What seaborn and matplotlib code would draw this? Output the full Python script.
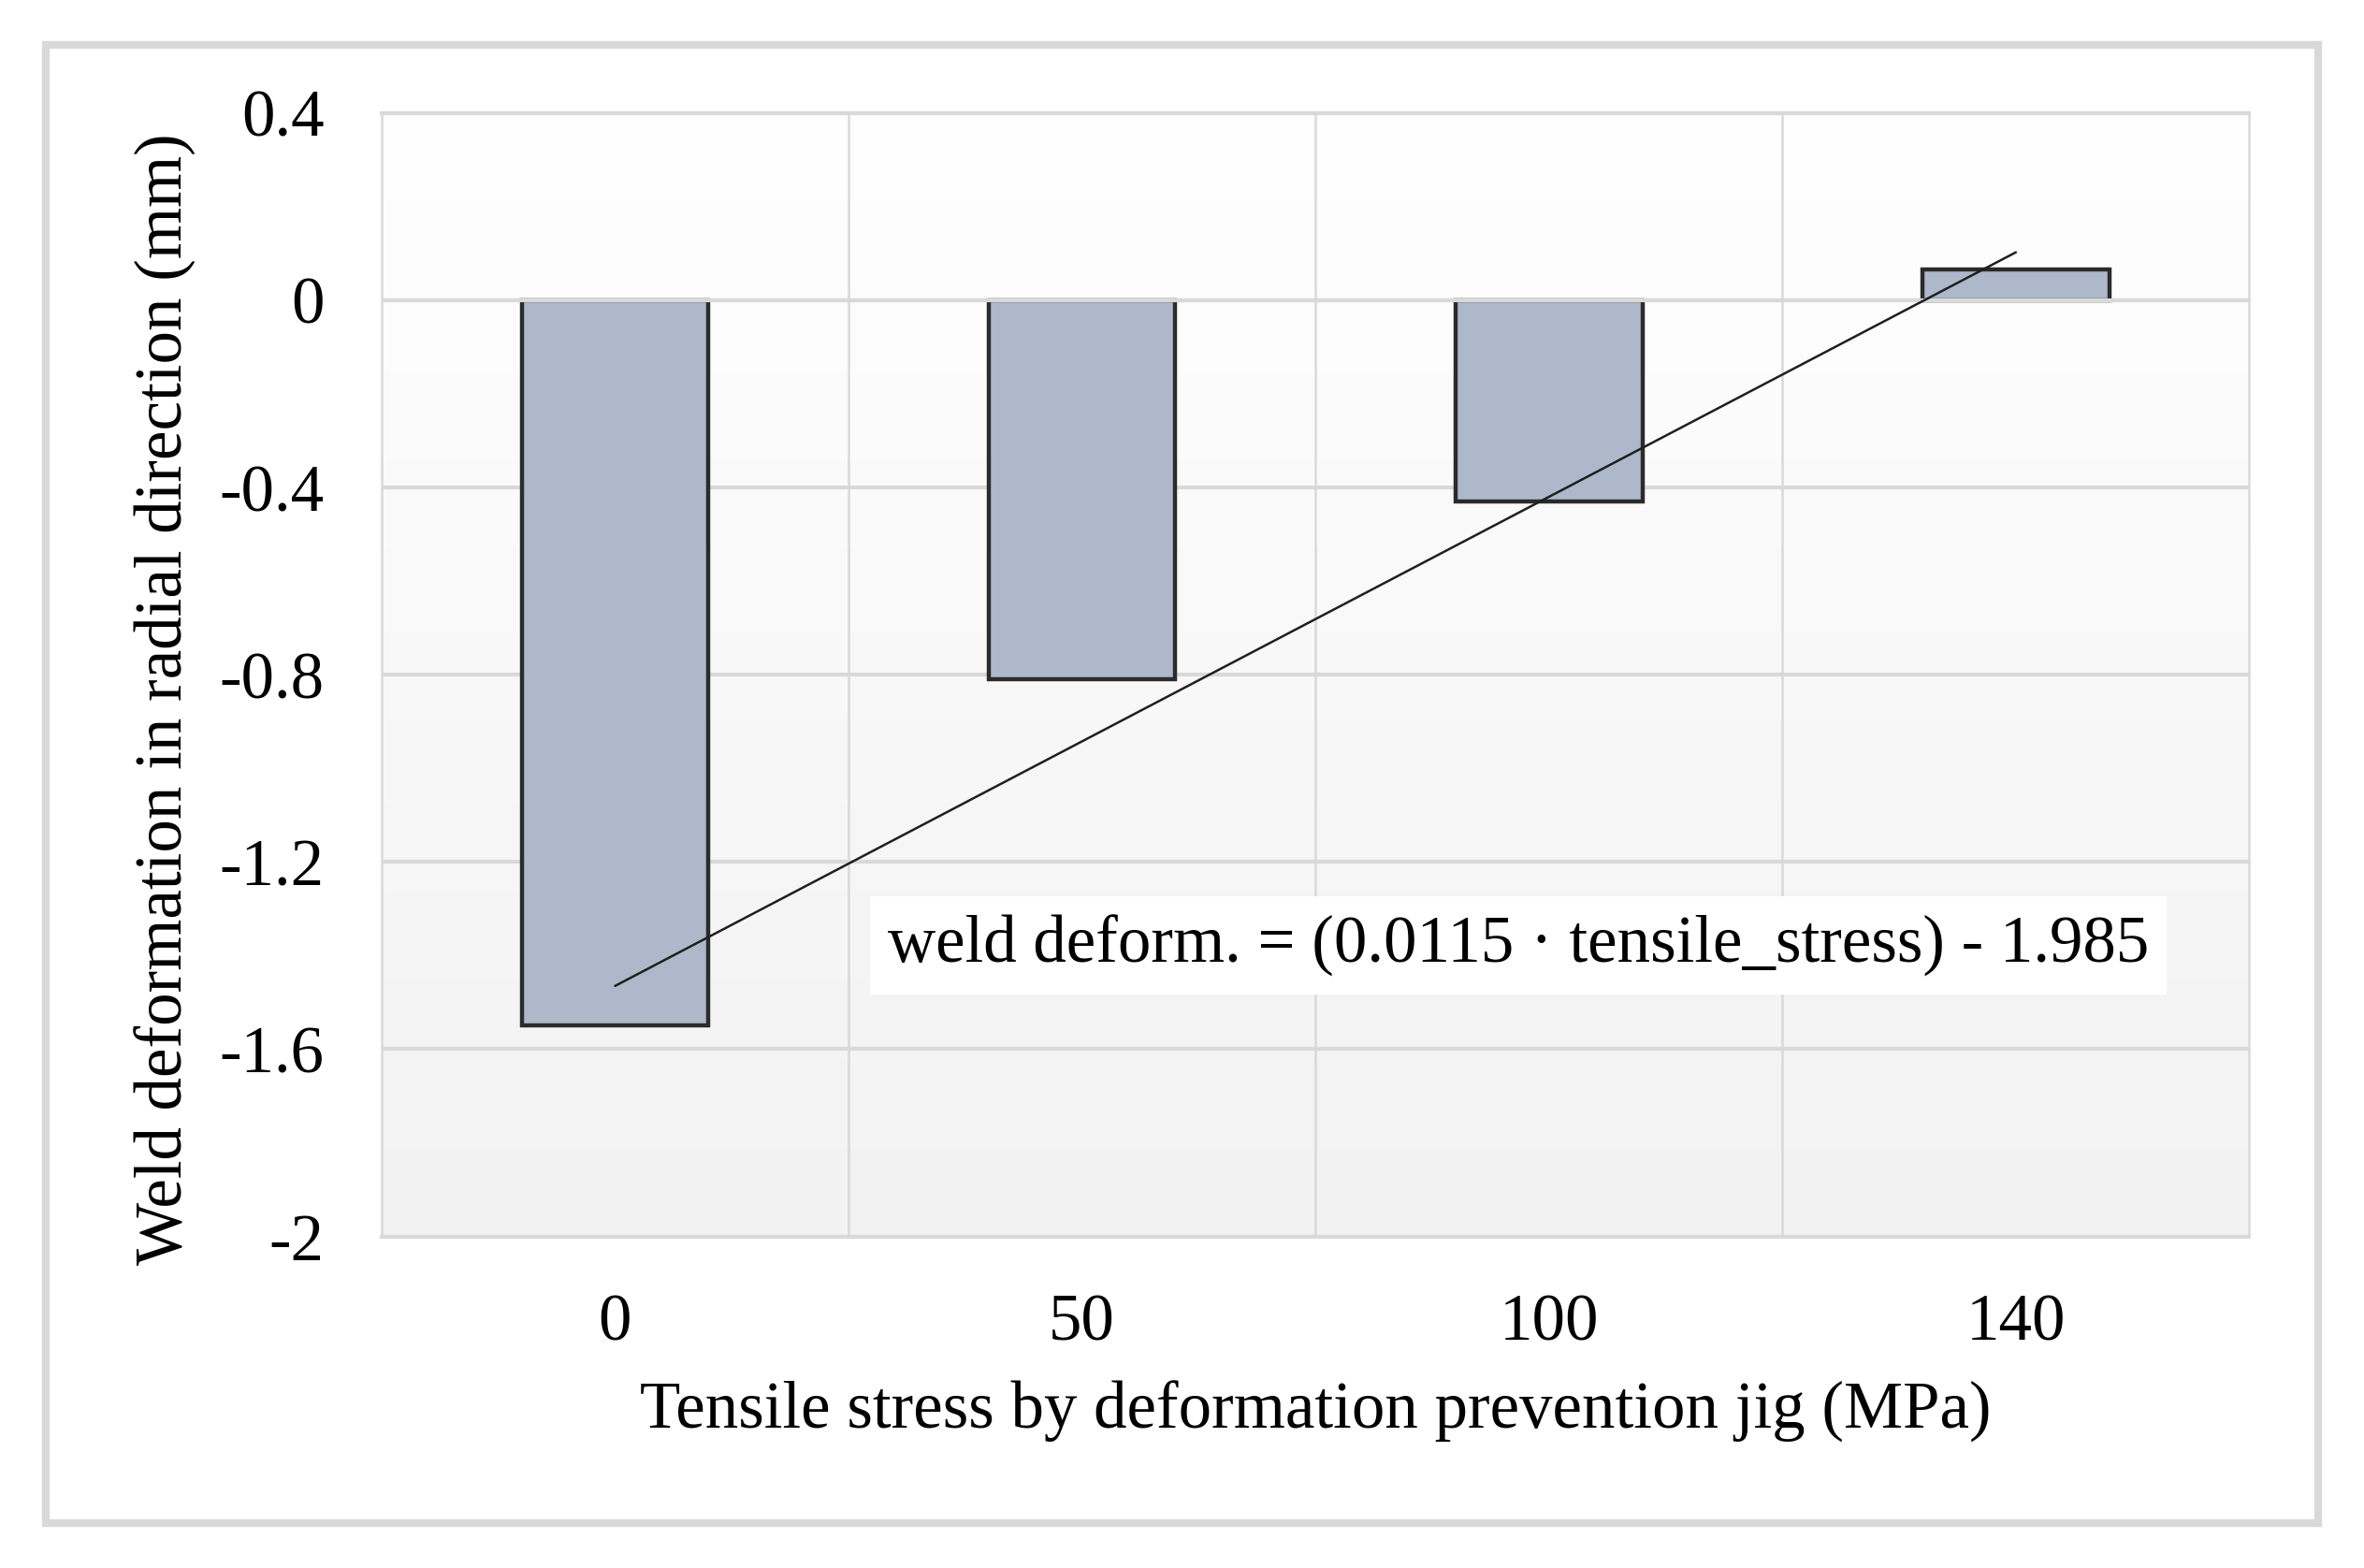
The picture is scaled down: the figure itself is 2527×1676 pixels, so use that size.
import numpy as np
import pandas as pd
import matplotlib
matplotlib.use("Agg")
import matplotlib.pyplot as plt
from matplotlib.patches import Rectangle
from matplotlib.ticker import FixedLocator
import seaborn as sns

# dados
tensoes = ["0", "50", "100", "140"]
deformacao = [-1.55, -0.81, -0.43, 0.065]
yticks = [-2.0, -1.6, -1.2, -0.8, -0.4, 0.0, 0.4]
ytick_labels = ["-2", "-1.6", "-1.2", "-0.8", "-0.4", "0", "0.4"]
equacao = "weld deform. = (0.0115 \u00b7 tensile_stress) - 1.985"

sns.set_style("white")
plt.rcParams["font.family"] = ["Liberation Serif", "DejaVu Serif"]
plt.rcParams["text.color"] = "black"
plt.rcParams["axes.labelcolor"] = "black"

dados = pd.DataFrame({"tensao": tensoes, "deform": deformacao})

cor_grade = "#d9d9d9"
tamanho = 51

fig = plt.figure(figsize=(25.27, 16.76), dpi=100)
ax = fig.add_axes([0.1614, 0.2115, 0.7901, 0.7164])

# fundo em degradê (branco em cima, cinza claro embaixo)
grad = np.linspace(0, 1, 256).reshape(-1, 1)
ax.imshow(grad, cmap=matplotlib.colors.LinearSegmentedColormap.from_list("g", ["#f2f2f2", "#ffffff"]),
          extent=[0, 1, 0, 1], transform=ax.transAxes, aspect="auto", zorder=-1, origin="lower")

sns.barplot(
    data=dados,
    x="tensao",
    y="deform",
    order=tensoes,
    width=0.4,
    color="#adb9ca",
    saturation=1,
    edgecolor="#2b2b2b",
    linewidth=3.2,
    zorder=3,
    ax=ax
)

# linha do eixo em zero por cima das barras
ax.axhline(0, color=cor_grade, linewidth=3, zorder=3.5)

# linha de tendência linear
sns.regplot(
    x=np.arange(len(deformacao)),
    y=np.array(deformacao),
    scatter=False,
    ci=None,
    color="#1f1f1f",
    line_kws={"linewidth": 1.8, "zorder": 4},
    ax=ax
)

ax.set_xlim(-0.5, len(tensoes) - 0.5)
ax.set_ylim(-2, 0.4)
ax.set_yticks(yticks)
ax.set_yticklabels(ytick_labels)
ax.set_xticks(range(len(tensoes)))
ax.set_xticklabels(tensoes)
ax.xaxis.set_minor_locator(FixedLocator([0.5, 1.5, 2.5]))

ax.set_axisbelow(True)
ax.yaxis.grid(True, color=cor_grade, linewidth=3)
ax.xaxis.grid(True, which="minor", color=cor_grade, linewidth=1.8)
ax.xaxis.grid(False, which="major")

for lado in ["top", "bottom"]:
    ax.spines[lado].set_color(cor_grade)
    ax.spines[lado].set_linewidth(3)
for lado in ["left", "right"]:
    ax.spines[lado].set_color(cor_grade)
    ax.spines[lado].set_linewidth(1.8)

ax.tick_params(axis="both", which="both", length=0, labelsize=tamanho, colors="black")
ax.tick_params(axis="y", pad=44)
ax.tick_params(axis="x", pad=44)

ax.set_xlabel("Tensile stress by deformation prevention jig (MPa)", fontsize=tamanho, labelpad=20)
ax.set_ylabel("Weld deformation in radial direction (mm)", fontsize=tamanho, labelpad=18, y=0.478)

ax.text(
    0.271, 0.259, equacao,
    transform=ax.transAxes,
    fontsize=tamanho,
    va="center",
    ha="left",
    zorder=5,
    bbox=dict(boxstyle="square,pad=0.27", facecolor="white", edgecolor="none")
)

# moldura externa
fig.patches.append(Rectangle((0.0195, 0.0285), 0.961, 0.943, transform=fig.transFigure,
                             fill=False, edgecolor=cor_grade, linewidth=6))

fig.savefig("out.png", dpi=100)
plt.close(fig)
